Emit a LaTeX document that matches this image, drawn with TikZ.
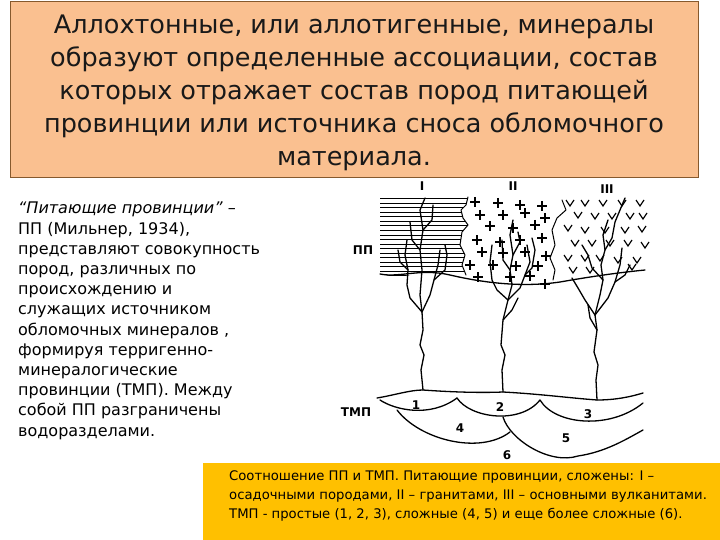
\documentclass[tikz,border=0pt]{standalone}
\usepackage{fontspec}
\setmainfont{DejaVu Sans}
\begin{document}
\begin{tikzpicture}[x=1pt,y=-1pt,
  ln/.style={line width=1.3pt,line join=round,line cap=round},
  lbl/.style={font=\fontsize{12}{12}\selectfont\bfseries},
  mk/.style={line width=1.2pt}]
\useasboundingbox (0,0) rectangle (720,540);
\fill[white] (0,0) rectangle (720,540);
% title
\node[draw=brown!70!black,line width=1pt,fill={rgb,255:red,250;green,192;blue,144},minimum width=688pt,minimum height=176pt,anchor=north west] (title) at (10,1) {};
\node[align=center,font=\fontsize{25.5}{33}\selectfont,text=black!90] (tt) at (354,93) {Аллохтонные, или аллотигенные, минералы\\образуют определенные ассоциации, состав\\которых отражает состав пород питающей\\провинции или источника сноса обломочного\\материала.};
% left text
\node[align=left,anchor=north west,inner sep=0pt,font=\fontsize{16}{20.2}\selectfont] (lt) at (18,202) {\textit{“Питающие провинции”} –\\ПП (Мильнер, 1934),\\представляют совокупность\\пород, различных по\\происхождению и\\служащих источником\\обломочных минералов ,\\формируя терригенно-\\минералогические\\провинции (ТМП). Между\\собой ПП разграничены\\водоразделами.};
% bottom box
\node[fill={rgb,255:red,255;green,192;blue,0},minimum width=517pt,minimum height=77pt,anchor=north west,inner sep=0pt] (bb) at (203,463) {};
\node[align=left,anchor=north west,inner sep=0pt,font=\fontsize{13.2}{19}\selectfont] (bt) at (229,470) {Соотношение ПП и ТМП. Питающие провинции, сложены: I –\\осадочными породами, II – гранитами, III – основными вулканитами.\\ТМП - простые (1, 2, 3), сложные (4, 5) и еще более сложные (6).};
% labels
\node[lbl] (l1) at (422,186) {I};
\node[lbl] (l2) at (513,186) {II};
\node[lbl] (l3) at (607,189) {III};
\node[lbl,font=\fontsize{12}{12}\selectfont\bfseries] (pp) at (363,250) {ПП};
\node[lbl,font=\fontsize{12}{12}\selectfont\bfseries] (tmp) at (356,412) {ТМП};
% hatched region
\begin{scope}
\clip (380,197) -- (468,197) -- (466,205) -- (461,210) -- (463,218) -- (468,225) -- (462,232) -- (460,245) -- (465,255) -- (462,265) -- (466,275) -- (455,274) -- (440,275) -- (425,272) -- (405,276) -- (390,276) -- (380,274) -- cycle;
\foreach \y in {199,203.5,...,276} \draw[line width=1pt] (380,\y) -- (470,\y);
\end{scope}
\draw[ln,line width=1pt] (468,197) -- (466,205) -- (461,210) -- (463,218) -- (468,225) -- (462,232) -- (460,245) -- (465,255) -- (462,265) -- (466,275);
% plus marks
\foreach \x/\y in {475/202,498/203,520/205,542/206,480/215,503/215,525/213,545/218,490/226,513/228,535/225,477/240,500/242,520/240,542/238,482/252,503/253,525/252,546/256,470/265,493/265,516/266,538/266,478/277,510/277,530/276,545/284}
  \draw[mk] (\x-5,\y) -- (\x+5,\y) (\x,\y-5) -- (\x,\y+5);
% boundary plus / V
\draw[ln,line width=1pt] (562,200) -- (566,210) -- (557,218) -- (552,230) -- (555,245) -- (550,258) -- (555,270) -- (553,280);
% V marks
\foreach \x/\y in {570/203,585/203,603/203,622/203,640/203,578/215,595/216,612/216,630/216,643/216,568/228,585/230,605/230,625/230,642/229,575/243,592/243,610/243,628/243,645/245,568/258,585/258,600/258,618/260,637/260,573/270,590/270,632/267}
  \draw[mk] (\x-4,\y-3) -- (\x,\y+3) -- (\x+4,\y-3);
% bottom boundary of PP
\draw[ln] (380,274) .. controls (400,278) and (420,268) .. (450,275) .. controls (480,282) and (520,288) .. (560,282) .. controls (600,275) and (625,272) .. (645,270);
% tree I
\draw[ln] (423,390) -- (421,370) -- (424,355) -- (420,345) -- (423,330) -- (422,312);
\draw[ln] (422,312) -- (410,298) -- (407,285) -- (408,270) -- (405,255) -- (407,240);
\draw[ln] (422,312) -- (430,295) -- (434,280) -- (438,265) -- (440,250);
\draw[ln] (422,312) -- (420,295) -- (422,270) -- (420,250) -- (423,230) -- (420,210) -- (425,198);
\draw[ln] (408,270) -- (400,262) -- (398,250);
\draw[ln] (420,250) -- (412,240) -- (410,222);
\draw[ln] (423,230) -- (432,220) -- (433,205);
\draw[ln] (434,280) -- (445,270) -- (447,255) -- (445,245);
% tree II
\draw[ln] (503,392) -- (502,370) -- (505,355) -- (501,345) -- (503,320) -- (508,300);
\draw[ln] (508,300) -- (497,290) -- (492,280) -- (490,262) -- (492,245);
\draw[ln] (508,300) -- (512,285) -- (510,270) -- (513,255) -- (510,235) -- (513,220);
\draw[ln] (508,300) -- (520,288) -- (525,275) -- (530,262) -- (527,245);
\draw[ln] (510,270) -- (503,260) -- (502,240);
\draw[ln] (525,275) -- (532,268) -- (535,250) -- (532,238);
\draw[ln] (513,255) -- (520,242) -- (518,232);
\draw[ln] (503,320) -- (512,310) -- (518,298);
% tree III
\draw[ln] (597,400) -- (596,380) -- (598,365) -- (594,352) -- (597,330) -- (595,315);
\draw[ln] (595,315) -- (585,300) -- (578,288) -- (572,278);
\draw[ln] (595,315) -- (600,295) -- (603,280) -- (601,265) -- (605,250) -- (603,235) -- (608,220);
\draw[ln] (595,315) -- (608,298) -- (615,282) -- (620,265) -- (622,248);
\draw[ln] (603,280) -- (592,268) -- (588,255) -- (582,245);
\draw[ln] (605,250) -- (612,238) -- (615,222) -- (620,210) -- (625,198);
\draw[ln] (615,282) -- (625,275) -- (630,265);
\draw[ln] (597,330) -- (590,318) -- (588,305);
% TMP lenses
\draw[ln] (377,398) .. controls (395,395) and (410,390) .. (423,390) .. controls (450,392) and (480,393) .. (503,392) .. controls (540,394) and (570,398) .. (597,400) .. controls (615,400) and (630,397) .. (643,393);
\draw[ln] (380,400) .. controls (395,410) and (430,418) .. (457,398);
\draw[ln] (457,398) .. controls (470,418) and (520,425) .. (540,400);
\draw[ln] (540,400) .. controls (555,425) and (610,430) .. (643,403);
\draw[ln] (397,410) .. controls (420,440) and (480,455) .. (510,432);
\draw[ln] (503,417) .. controls (510,440) and (550,465) .. (578,456) .. controls (605,452) and (625,440) .. (643,430);
\node[lbl] (n1) at (416,405) {1};
\node[lbl] (n2) at (500,407) {2};
\node[lbl] (n3) at (588,414) {3};
\node[lbl] (n4) at (460,428) {4};
\node[lbl] (n5) at (566,438) {5};
\node[lbl] (n6) at (507,455) {6};
\end{tikzpicture}
\end{document}
